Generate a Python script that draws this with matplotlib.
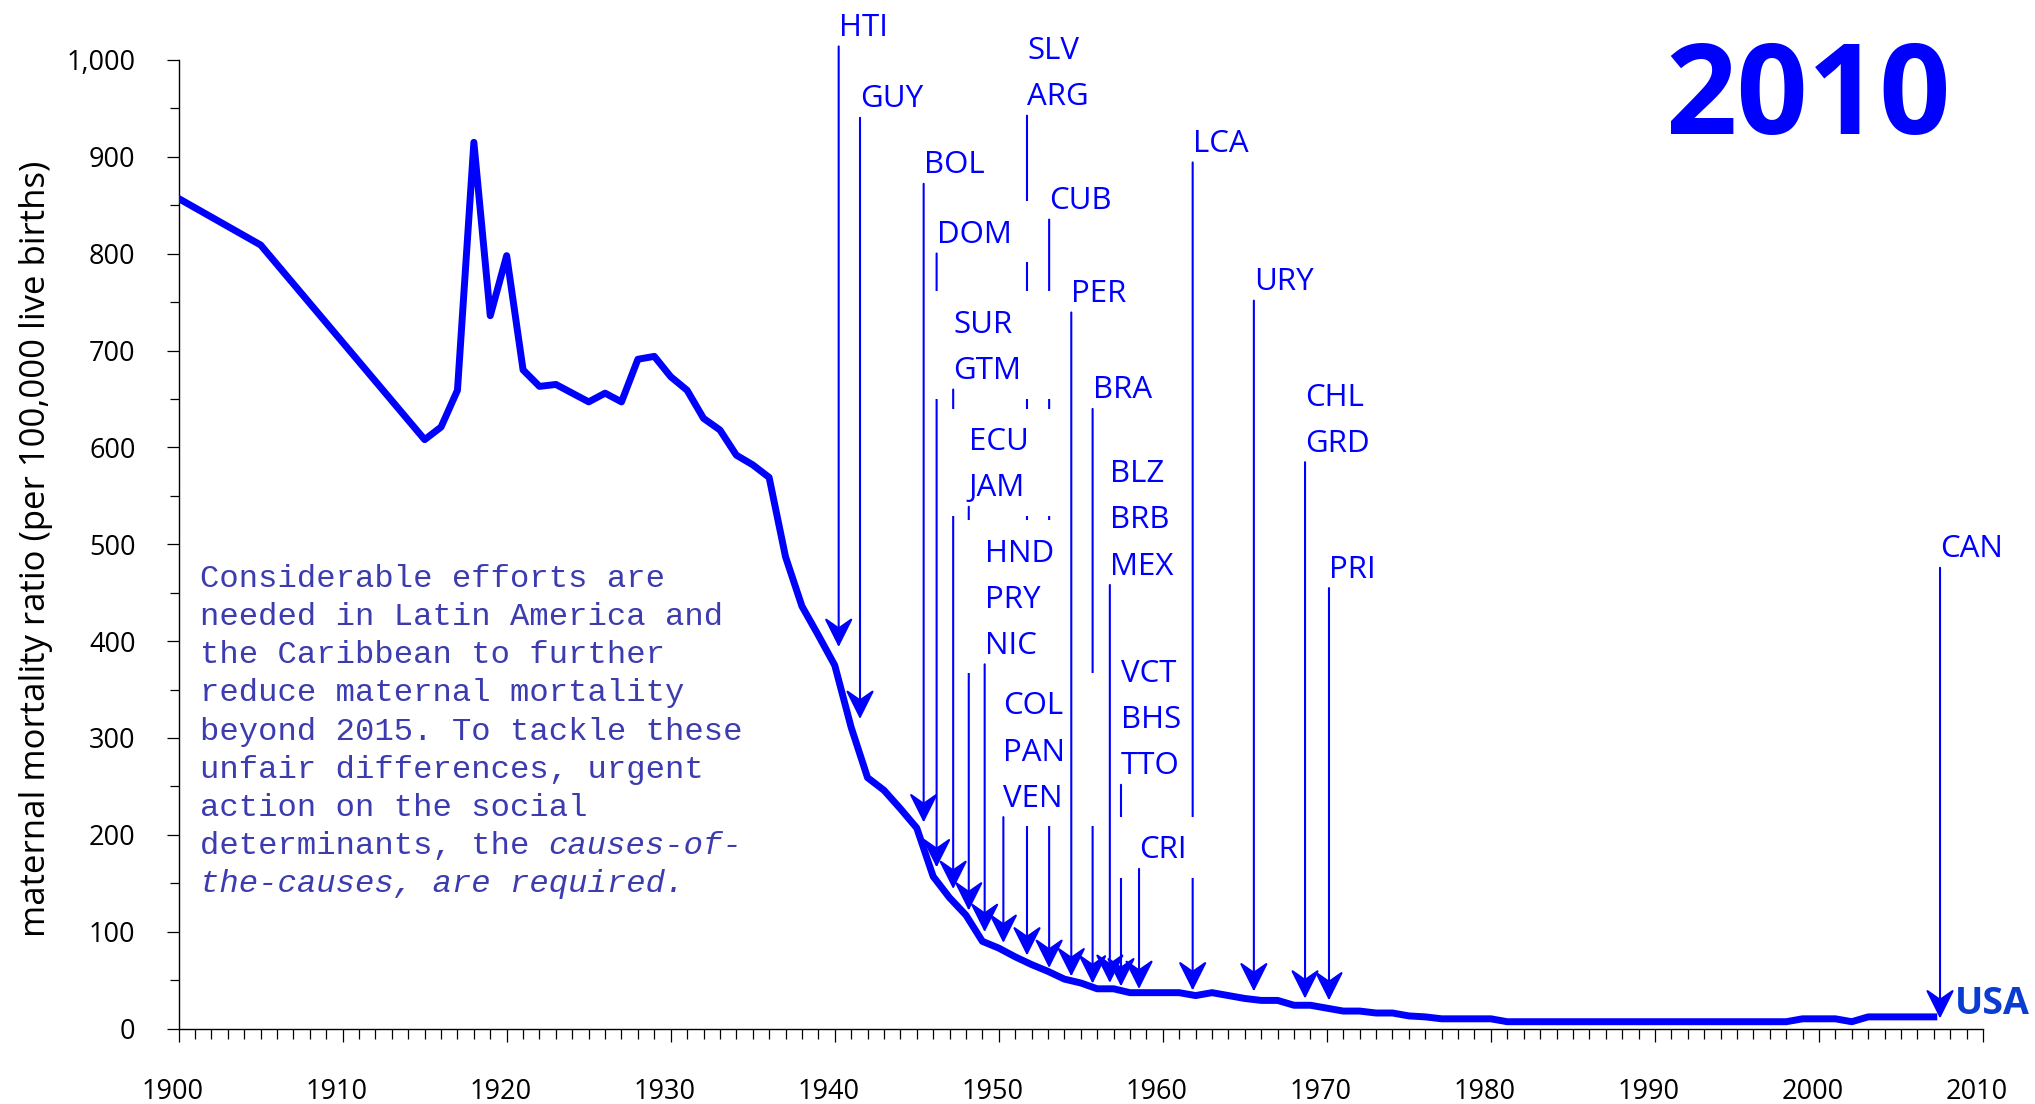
import numpy as np
import matplotlib
matplotlib.use("Agg")
import matplotlib.pyplot as plt
from matplotlib.path import Path
from matplotlib.patches import ArrowStyle
from matplotlib.transforms import ScaledTranslation

# ---------------- data ----------------
years = [1900, 1905] + list(range(1915, 2008))
usa_mmr = [857, 809,
           608, 621, 659, 915, 736, 798, 680, 663, 665, 656,          # 1915-1924
           647, 656, 647, 691, 694, 673, 659, 630, 618, 592,          # 1925-1934
           582, 569, 487, 436, 406, 375, 311, 259, 246, 227,          # 1935-1944
           207, 157, 135, 117, 90, 83, 74, 66, 59, 51,                # 1945-1954
           47, 41, 41, 37, 37, 37, 37, 34, 37, 34,                    # 1955-1964
           31, 29, 29, 24, 24, 21, 18, 18, 16, 16,                    # 1965-1974
           13, 12, 10, 10, 10, 10, 7, 7, 7, 7,                        # 1975-1984
           7, 7, 7, 7, 7, 7, 7, 7, 7, 7,                              # 1985-1994
           7, 7, 7, 7, 10, 10, 10, 7, 12, 12,                         # 1995-2004
           12, 12, 12]                                                # 2005-2007

# country labels (in drawing order), the year at which the USA curve matched
# their 2010 ratio, and the ratio the arrow points to
country_labels = ["SLV\nARG", "DOM", "BOL", "CUB", "SUR\nGTM", "ECU\nJAM",
                  "VCT\nBHS\nTTO", "BLZ\nBRB\nMEX", "BRA", "COL\nPAN\nVEN",
                  "HND\nPRY\nNIC", "PER", "LCA", "CRI", "GUY", "HTI", "URY",
                  "CHL\nGRD", "PRI", "CAN"]
match_year = [1951.72, 1946.21, 1945.42, 1953.07, 1947.22, 1948.17,
              1957.45, 1956.77, 1955.72, 1950.28,
              1949.14, 1954.42, 1961.82, 1958.55, 1941.54, 1940.24, 1965.55,
              1968.67, 1970.13, 2007.38]
arrow_value = [75.4, 166.4, 212.8, 62.5, 144.0, 121.8,
               43.5, 47.1, 46.4, 88.4,
               99.6, 53.8, 39.3, 40.8, 319.6, 393.9, 38.3,
               30.9, 29.0, 10.4]
# layout: top of each label (in y-data units)
label_top = [1024.7, 834.8, 906.7, 869.8, 741.9, 620.9,
             381.4, 587.7, 674.3, 348.0,
             505.8, 773.9, 928.8, 199.4, 974.9, 1048.6, 786.1,
             666.9, 489.3, 510.3]

x_ticks = list(range(1900, 2011, 10))
x_tick_labels = [str(v) for v in x_ticks]
y_ticks = list(range(0, 1001, 100))
y_tick_labels = ["0", "100", "200", "300", "400", "500", "600", "700",
                 "800", "900", "1,000"]

note_lines = [
    [("Considerable efforts are", False)],
    [("needed in Latin America and", False)],
    [("the Caribbean to further", False)],
    [("reduce maternal mortality", False)],
    [("beyond 2015. To tackle these", False)],
    [("unfair differences, urgent", False)],
    [("action on the social", False)],
    [("determinants, the ", False), ("causes-of-", True)],
    [("the-causes, are required.", True)],
]

# ---------------- style ----------------
plt.rcParams["font.family"] = ["Open Sans", "DejaVu Sans"]
BLUE = "#0000ff"
W, H = 2035, 1104
fig = plt.figure(figsize=(W / 100, H / 100), dpi=100)
ax = fig.add_axes([178.6 / W, 1 - 1028.5 / H, (1983 - 178.6) / W, (1028.5 - 60) / H])
ax.set_xlim(1900, 2010)
ax.set_ylim(0, 1000)
for s in ("top", "right"):
    ax.spines[s].set_visible(False)
for s in ("left", "bottom"):
    ax.spines[s].set_linewidth(1.0)

ax.set_xticks(x_ticks, labels=x_tick_labels)
ax.set_xticks(np.arange(1900, 2011, 1), minor=True)
ax.set_yticks(y_ticks, labels=y_tick_labels)
ax.set_yticks(np.arange(50, 1000, 100), minor=True)
ax.tick_params(axis="x", which="major", length=9.6, width=0.9, pad=26, labelsize=19.5)
ax.tick_params(axis="x", which="minor", length=7, width=0.9)
ax.tick_params(axis="y", which="major", length=9, width=0.9, pad=22, labelsize=19.5)
ax.tick_params(axis="y", which="minor", length=6.5, width=0.9)
for lbl in ax.get_xticklabels():
    lbl.set_transform(lbl.get_transform() + ScaledTranslation(-0.06, 0, fig.dpi_scale_trans))

# main curve
ax.plot(years, usa_mmr, color=BLUE, lw=5, solid_joinstyle="round", zorder=3)


class NotchedFilled(ArrowStyle.CurveFilledB):
    def __init__(self, head_length=0.9, head_width=0.45, notch=0.35):
        super().__init__(head_length=head_length, head_width=head_width)
        self.notch = notch

    def _get_arrow_wedge(self, x0, y0, x1, y1, head_dist, cos_t, sin_t, linewidth):
        verts, codes, ddx, ddy = super()._get_arrow_wedge(
            x0, y0, x1, y1, head_dist, cos_t, sin_t, linewidth)
        (ax_, ay_), (tx, ty), (bx, by) = verts
        mx, my = 0.5 * (ax_ + bx), 0.5 * (ay_ + by)
        nx, ny = mx + (tx - mx) * self.notch, my + (ty - my) * self.notch
        return ([(ax_, ay_), (tx, ty), (bx, by), (nx, ny)],
                [Path.MOVETO, Path.LINETO, Path.LINETO, Path.LINETO], ddx, ddy)


def label_box(x0, y0, width, height, mutation_size):
    m = mutation_size
    l, r, b, t = x0 - 0.64 * m, x0 + width + 1.09 * m, y0 - 0.40 * m, y0 + height + 0.595 * m
    return Path([(l, b), (r, b), (r, t), (l, t), (l, b)],
                [Path.MOVETO, Path.LINETO, Path.LINETO, Path.LINETO, Path.CLOSEPOLY])


for i, (lab, yr, val, top) in enumerate(zip(country_labels, match_year, arrow_value, label_top)):
    z = 10 + 2 * i
    txt = ax.text(yr, top, lab, ha="left", va="top", fontsize=22.5, color=BLUE,
                  linespacing=1.70, zorder=z,
                  bbox=dict(boxstyle=label_box, fc="white", ec="none"))
    ax.annotate("", xy=(yr, val), xycoords="data", xytext=(0, 0), textcoords=txt,
                arrowprops=dict(arrowstyle=NotchedFilled(0.9, 0.45, 0.35), color=BLUE,
                                lw=1.5, shrinkA=2.5, shrinkB=0, mutation_scale=20),
                zorder=z + 1)

# USA label at end of curve
ax.annotate("USA", xy=(years[-1], usa_mmr[-1]), xytext=(15, 2.4),
            textcoords="offset points", fontsize=27, fontweight="bold",
            color="#0a3cd2", ha="left", va="baseline", annotation_clip=False)

# text note
note_fs = 23.2
char_w = 0.6 * note_fs
lead = 27.5
for i, segs in enumerate(note_lines):
    col = 0
    for s, it in segs:
        ax.annotate(s, xy=(1901.3, 456.1), xycoords="data",
                    xytext=(col * char_w, -i * lead), textcoords="offset points",
                    fontfamily=["Liberation Mono", "DejaVu Sans Mono"], fontsize=note_fs,
                    style="italic" if it else "normal", color="#3c3cb0",
                    ha="left", va="baseline", annotation_clip=False, zorder=4)
        col += len(s)

fig.text(35.7 / W, 1 - 548.9 / H, "maternal mortality ratio (per 100,000 live births)",
         rotation=90, ha="center", va="center", fontsize=25, color="black")
fig.text(1808 / W, 1 - 134 / H, "2010", fontsize=90, fontweight="bold", color=BLUE,
         ha="center", va="baseline")

fig.savefig("out.png", dpi=100)
